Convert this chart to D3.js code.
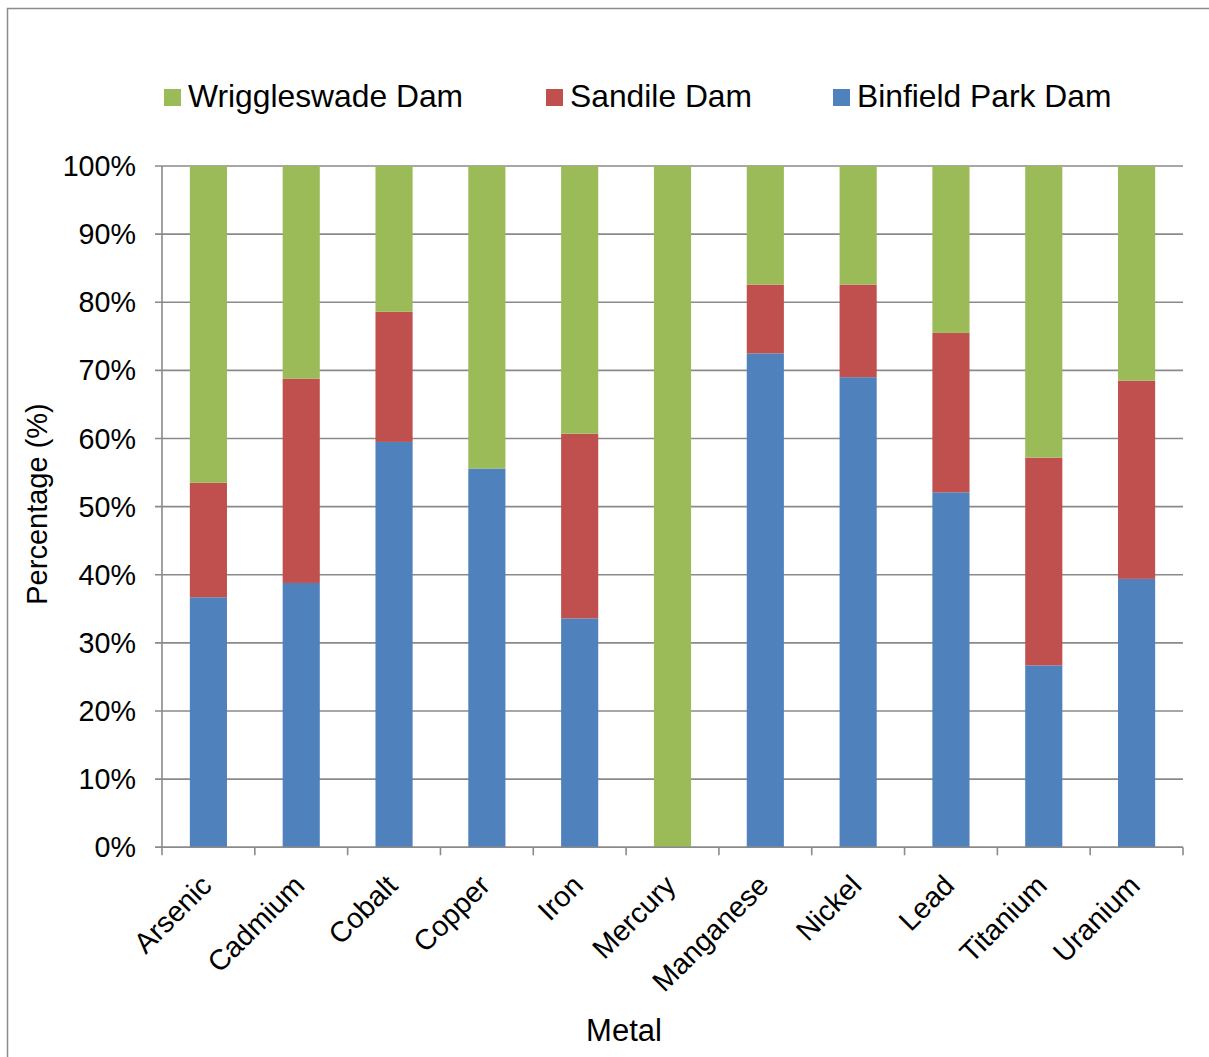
<!DOCTYPE html>
<html>
<head>
<meta charset="utf-8">
<script src="https://cdn.jsdelivr.net/npm/d3@7"></script>
<style>
  html, body { margin: 0; padding: 0; background: #fff; }
  svg { display: block; font-family: "Liberation Sans", Arial, sans-serif; }
</style>
</head>
<body>
<svg id="chart" width="1209" height="1057"></svg>
<script>
// Share of each metal found at each dam (percent, stacked to 100%)
const metals = ["Arsenic", "Cadmium", "Cobalt", "Copper", "Iron", "Mercury",
                "Manganese", "Nickel", "Lead", "Titanium", "Uranium"];
const binfieldPark = [36.7, 38.8, 59.5, 55.6, 33.6, 0, 72.5, 69.0, 52.1, 26.7, 39.4];
const sandile      = [16.8, 30.0, 19.1, 0, 27.1, 0, 10.1, 13.6, 23.4, 30.5, 29.1];
const wriggleswade = [46.5, 31.2, 21.4, 44.4, 39.3, 100, 17.4, 17.4, 24.5, 42.8, 31.5];
const seriesNames  = ["Binfield Park Dam", "Sandile Dam", "Wriggleswade Dam"];
const seriesColors = ["#4F81BD", "#C0504D", "#9BBB59"];
const yTicks = [0, 10, 20, 30, 40, 50, 60, 70, 80, 90, 100];

const rows = metals.map((m, i) => ({
  metal: m,
  "Binfield Park Dam": binfieldPark[i],
  "Sandile Dam": sandile[i],
  "Wriggleswade Dam": wriggleswade[i]
}));

const svg = d3.select("#chart");
const plotLeft = 162, plotRight = 1183, plotTop = 166, plotBottom = 847.3;
const gridColor = "#8a8a8a";

// Outer chart frame (extends past the visible area)
svg.append("rect")
  .attr("x", 7.5).attr("y", 8.5)
  .attr("width", 1240).attr("height", 1100)
  .attr("fill", "none").attr("stroke", "#8c8c8c").attr("stroke-width", 1.5);

const x = d3.scaleBand().domain(metals).range([plotLeft, plotRight])
  .paddingInner(0.6).paddingOuter(0.3);
const y = d3.scaleLinear().domain([0, 100]).range([plotBottom, plotTop]);
const color = d3.scaleOrdinal().domain(seriesNames).range(seriesColors);

// Horizontal gridlines with left tick stubs
svg.append("g").selectAll("line").data(yTicks).join("line")
  .attr("x1", plotLeft - 7).attr("x2", plotRight)
  .attr("y1", d => y(d)).attr("y2", d => y(d))
  .attr("stroke", gridColor).attr("stroke-width", 1.6);

// Stacked bars
const stack = d3.stack().keys(seriesNames)(rows);
svg.append("g").selectAll("g").data(stack).join("g")
  .attr("fill", d => color(d.key))
  .selectAll("rect").data(d => d).join("rect")
  .attr("x", d => x(d.data.metal))
  .attr("width", x.bandwidth())
  .attr("y", d => y(d[1]))
  .attr("height", d => Math.max(0, y(d[0]) - y(d[1])));

// Y axis line
svg.append("line")
  .attr("x1", plotLeft).attr("x2", plotLeft).attr("y1", plotTop).attr("y2", plotBottom)
  .attr("stroke", gridColor).attr("stroke-width", 1.6);

// X axis line and category boundary ticks
svg.append("line")
  .attr("x1", plotLeft - 7).attr("x2", plotRight).attr("y1", plotBottom).attr("y2", plotBottom)
  .attr("stroke", gridColor).attr("stroke-width", 1.6);
const step = x.step();
svg.append("g").selectAll("line").data(d3.range(metals.length + 1)).join("line")
  .attr("x1", i => plotLeft + i * step).attr("x2", i => plotLeft + i * step)
  .attr("y1", plotBottom).attr("y2", plotBottom + 8)
  .attr("stroke", gridColor).attr("stroke-width", 1.6);

// Y tick labels
svg.append("g").selectAll("text").data(yTicks).join("text")
  .attr("x", 136).attr("y", d => y(d))
  .attr("dy", "0.35em")
  .attr("text-anchor", "end")
  .attr("font-size", 28.7).attr("fill", "#000")
  .text(d => d + "%");

// X category labels, rotated
svg.append("g").selectAll("text").data(metals).join("text")
  .attr("transform", d => `translate(${x(d) + x.bandwidth() / 2 + 5},${plotBottom + 40}) rotate(-45)`)
  .attr("text-anchor", "end")
  .attr("font-size", 28.7).attr("fill", "#000")
  .text(d => d);

// Axis titles
svg.append("text")
  .attr("transform", `translate(47,504) rotate(-90)`)
  .attr("text-anchor", "middle")
  .attr("font-size", 29).attr("fill", "#000")
  .text("Percentage (%)");
svg.append("text")
  .attr("x", 624).attr("y", 1041)
  .attr("text-anchor", "middle")
  .attr("font-size", 31).attr("fill", "#000")
  .text("Metal");

// Legend (top series first)
const legendItems = [
  { name: "Wriggleswade Dam", x: 164 },
  { name: "Sandile Dam", x: 546 },
  { name: "Binfield Park Dam", x: 833 }
];
const lg = svg.append("g").selectAll("g").data(legendItems).join("g")
  .attr("transform", d => `translate(${d.x},89)`);
lg.append("rect").attr("width", 17).attr("height", 17)
  .attr("fill", d => color(d.name));
lg.append("text").attr("x", 24).attr("y", 18)
  .attr("font-size", 31.8).attr("fill", "#000")
  .text(d => d.name);
</script>
</body>
</html>
